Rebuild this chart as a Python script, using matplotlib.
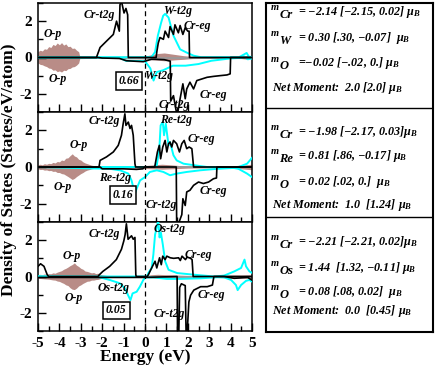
import numpy as np
import matplotlib
matplotlib.use('Agg')
from matplotlib import pyplot as plt
from matplotlib.ticker import MultipleLocator

plt.rcParams['font.family'] = 'Liberation Serif'
plt.rcParams['font.weight'] = 'bold'
plt.rcParams['axes.unicode_minus'] = False
plt.rcParams['mathtext.fontset'] = 'custom'
plt.rcParams['mathtext.it'] = 'Liberation Serif:italic:bold'
plt.rcParams['mathtext.rm'] = 'Liberation Serif:bold'
plt.rcParams['mathtext.bf'] = 'Liberation Serif:italic:bold'

# ---------------- panel 1 : Cr / W ----------------
cr1_up_e = [-5.0, -2.27, -2.1, -1.8, -1.48, -1.33, -1.2, -1.17, -1.1, -0.98, -0.89, -0.81, -0.78,
            0.52, 0.55, 0.62, 0.7, 0.86, 0.94, 1.1, 1.17, 1.33, 1.4, 1.56, 1.64, 1.77, 1.88, 2.0, 2.06, 2.08, 5.0]
cr1_up = [0.0, 0.0, 0.55, 0.9, 1.27, 2.0, 1.45, 2.9, 3.1, 2.45, 2.7, 2.35, 0.0,
          0.0, 0.3, 0.8, 1.1, 1.0, 1.45, 1.1, 1.7, 1.27, 1.8, 1.36, 1.76, 1.27, 1.64, 1.45, 1.45, 0.0, 0.0]
cr1_dn_e = [-5.0, -2.2, -2.0, -1.2, -0.86, -0.08, 0.3, 0.5, 0.9, 1.1, 1.18, 1.2, 1.33, 1.45, 1.52, 1.64,
            1.77, 1.88, 1.95, 2.1, 2.27, 2.42, 2.66, 2.9, 3.2, 3.5, 3.83, 3.98, 4.0, 5.0]
cr1_dn = [0.0, 0.0, -0.03, -0.05, -0.18, -0.23, -0.1, -0.1, -0.12, -0.18, -0.2, -2.4, -2.1, -2.9, -3.1, -2.27,
          -1.45, -2.27, -1.73, -1.36, -1.73, -1.27, -1.18, -1.09, -1.04, -1.0, -0.96, -0.9, 0.0, 0.0]
w_up_e = [-5.0, 0.3, 0.47, 0.6, 0.75, 0.85, 0.94, 1.1, 1.33, 1.64, 1.95, 2.27, 2.6, 4.4, 4.6, 4.75, 4.85, 5.0]
w_up = [0.0, 0.02, 0.3, 1.2, 1.9, 2.3, 2.4, 2.2, 1.2, 0.45, 0.27, 0.1, 0.02, 0.02, 0.15, 0.25, 0.05, 0.02]
w_dn_e = [-5.0, -1.2, -0.9, 0.0, 0.25, 0.4, 0.55, 0.85, 1.3, 1.9, 2.5, 3.1, 4.0, 4.5, 4.65, 4.8, 5.0]
w_dn = [0.0, 0.0, -0.18, -0.2, -0.6, -1.27, -0.8, -0.7, -0.45, -0.45, -0.36, -0.18, -0.05, -0.02, 0.05, -0.1, -0.05]
op1_e = [-5.0, -4.9, -4.8, -4.7, -4.6, -4.5, -4.4, -4.3, -4.2, -4.1, -4.0, -3.9, -3.8, -3.7, -3.6, -3.5,
         -3.4, -3.3, -3.2, -3.1, -3.05, -2.5, -2.0, -1.5, -1.0, -0.5, 0.0, 0.3, 0.6, 0.9, 1.2, 1.5, 1.8,
         2.2, 3.0, 4.0, 4.5, 4.8, 5.0]
op1_up = [0.32, 0.40, 0.36, 0.48, 0.45, 0.60, 0.55, 0.72, 0.66, 0.80, 0.70, 0.82, 0.68, 0.75, 0.60, 0.62,
          0.50, 0.52, 0.40, 0.32, 0.06, 0.05, 0.05, 0.06, 0.08, 0.07, 0.08, 0.15, 0.22, 0.25, 0.2, 0.15, 0.1,
          0.06, 0.05, 0.05, 0.06, 0.12, 0.05]
op1_dn = [-0.30, -0.38, -0.40, -0.46, -0.50, -0.58, -0.60, -0.70, -0.68, -0.78, -0.74, -0.8, -0.7, -0.72, -0.62, -0.6,
          -0.52, -0.5, -0.42, -0.3, -0.06, -0.05, -0.05, -0.06, -0.07, -0.07, -0.08, -0.12, -0.15, -0.18, -0.15, -0.12, -0.1,
          -0.06, -0.05, -0.05, -0.06, -0.1, -0.05]

# ---------------- panel 2 : Cr / Re ----------------
cr2_up_e = [-5.0, -2.15, -2.1, -1.8, -1.48, -1.25, -1.1, -1.02, -0.94, -0.89, -0.78, -0.7, -0.63, -0.55, -0.47, -0.44,
            0.45, 0.47, 0.58, 0.67, 0.73, 0.83, 0.94, 1.02, 1.1, 1.17, 1.25, 1.33, 1.48, 1.61, 1.72, 1.83, 1.95,
            2.06, 2.19, 2.27, 5.0]
cr2_up = [0.0, 0.0, 0.36, 0.55, 0.82, 1.18, 1.73, 2.36, 2.9, 2.27, 2.45, 2.1, 2.27, 1.73, 0.18, 0.0,
          0.0, 0.1, 0.82, 1.18, 0.45, 1.09, 1.45, 0.82, 1.27, 1.36, 1.09, 1.45, 1.27, 0.82, 1.27, 1.45, 1.0,
          1.09, 1.0, 0.0, 0.0]
cr2_dn_e = [-5.0, -2.1, -2.0, -1.0, -0.4, -0.1, 0.0, 1.46, 1.48, 1.56, 1.72, 1.77, 1.88, 1.95, 2.1, 2.27, 2.5,
            2.73, 2.97, 3.2, 3.34, 3.36, 5.0]
cr2_dn = [0.0, 0.0, -0.1, -0.1, -0.13, -0.1, 0.0, 0.0, -3.1, -3.1, -2.6, -1.73, -2.1, -1.36, -1.27, -1.0, -0.82,
          -0.9, -0.82, -0.64, -0.6, 0.0, 0.0]
re_up_e = [-5.0, 0.4, 0.55, 0.67, 0.73, 0.83, 0.89, 0.97, 1.02, 1.1, 1.17, 1.33, 1.48, 1.8, 2.27, 2.9, 4.37, 4.77, 5.0]
re_up = [0.0, 0.0, 0.1, 1.0, 2.27, 2.45, 1.73, 2.36, 1.9, 1.18, 1.36, 0.64, 0.36, 0.18, 0.1, 0.0, 0.0, 0.18, 0.5]
re_dn_e = [-5.0, -1.64, -1.17, -0.78, -0.63, -0.55, -0.47, -0.39, -0.23, 0.0, 0.23, 0.55, 0.86, 1.17, 1.48,
           1.95, 2.58, 3.36, 4.14, 4.37, 4.77, 5.0]
re_dn = [0.0, -0.1, -0.18, -0.36, -0.73, -1.1, -1.45, -1.18, -0.73, -0.55, -0.27, -0.18, -0.27, -0.45, -0.36,
         -0.27, -0.18, -0.1, -0.05, -0.1, -0.36, -0.55]
op2_e = [-5.0, -4.9, -4.8, -4.7, -4.6, -4.5, -4.4, -4.3, -4.2, -4.1, -4.0, -3.9, -3.8, -3.7, -3.6, -3.5, -3.4,
         -3.3, -3.2, -3.1, -3.0, -2.9, -2.8, -2.7, -2.6, -2.5, -2.3, -2.0, -1.5, -1.0, -0.5, 0.0, 0.4, 0.8,
         1.2, 1.6, 2.0, 3.0, 4.0, 4.5, 5.0]
op2_up = [0.12, 0.15, 0.12, 0.18, 0.15, 0.2, 0.18, 0.25, 0.22, 0.3, 0.28, 0.38, 0.35, 0.48, 0.5, 0.62, 0.72,
          0.6, 0.55, 0.42, 0.38, 0.28, 0.22, 0.18, 0.14, 0.1, 0.06, 0.05, 0.04, 0.05, 0.06, 0.08, 0.12, 0.15,
          0.12, 0.08, 0.06, 0.05, 0.06, 0.1, 0.15]
op2_dn = [-0.1, -0.14, -0.13, -0.17, -0.16, -0.2, -0.19, -0.24, -0.23, -0.3, -0.3, -0.36, -0.38, -0.45, -0.52, -0.6, -0.68,
          -0.62, -0.52, -0.44, -0.36, -0.3, -0.22, -0.17, -0.14, -0.1, -0.06, -0.05, -0.04, -0.05, -0.06, -0.08, -0.1, -0.12,
          -0.1, -0.08, -0.06, -0.05, -0.06, -0.1, -0.15]

# ---------------- panel 3 : Cr / Os ----------------
cr3_up_e = [-5.0, -4.88, -4.72, -4.57, -4.5, -2.2, -2.13, -1.97, -1.65, -1.34, -1.1, -0.99, -0.93, -0.87, -0.79,
            -0.63, -0.55, -0.47, -0.43, -0.41, 0.1, 0.16, 0.31, 0.47, 0.55, 0.68, 0.76, 0.83, 0.94, 1.02, 1.18,
            1.34, 1.57, 1.65, 1.73, 1.89, 1.97, 2.13, 2.2, 2.25, 5.0]
cr3_up = [0.56, 0.7, 0.56, 0.1, 0.0, 0.0, 0.1, 0.28, 0.56, 0.93, 1.5, 1.96, 2.3, 2.9, 2.05,
          2.24, 2.05, 2.15, 0.1, 0.0, 0.0, 0.1, 0.47, 0.84, 0.47, 1.03, 0.65, 1.12, 0.93, 1.12, 1.03,
          1.0, 1.03, 0.88, 1.12, 0.93, 1.07, 1.0, 0.93, 0.0, 0.0]
cr3_dn_e = [-5.0, -4.5, -2.0, 0.0, 1.5, 1.52, 1.58, 1.62, 1.7, 1.88, 1.92, 1.97, 2.05, 2.13, 2.28, 2.6, 2.91,
            3.15, 3.22, 3.7, 4.17, 4.8, 5.0]
cr3_dn = [-0.05, -0.05, -0.05, -0.05, 0.0, -3.1, -3.1, -0.6, -0.4, -0.5, -3.1, -3.1, -1.4, -1.03, -0.75, -0.56, -0.56,
          -0.47, 0.0, 0.0, -0.1, -0.05, -0.2]
os_up_e = [-5.0, 0.1, 0.16, 0.31, 0.39, 0.47, 0.55, 0.62, 0.68, 0.74, 0.83, 0.94, 1.1, 1.5, 2.28, 3.23, 3.7,
           4.17, 4.49, 4.65, 4.72, 4.88, 5.0]
os_up = [0.0, 0.0, 0.2, 0.47, 1.2, 2.3, 2.7, 3.1, 2.15, 2.43, 1.78, 0.84, 0.37, 0.19, 0.1, 0.0, 0.05,
         0.28, 0.47, 0.93, 0.56, 0.28, 0.2]
os_dn_e = [-5.0, -2.13, -1.65, -1.18, -0.94, -0.79, -0.68, -0.58, -0.39, -0.24, -0.08, 0.03, 0.39, 1.02, 1.65,
           2.6, 3.39, 3.7, 4.02, 4.25, 4.33, 4.49, 4.72, 4.88, 5.0]
os_dn = [0.0, -0.04, -0.19, -0.37, -0.65, -1.03, -1.3, -0.93, -0.84, -0.56, -0.19, -0.05, -0.05, -0.13, -0.13,
         -0.1, -0.04, -0.05, -0.19, -0.47, -0.75, -0.47, -0.24, -0.19, -0.28]
op3_e = [-5.0, -4.9, -4.8, -4.7, -4.6, -4.5, -4.4, -4.3, -4.2, -4.1, -4.0, -3.9, -3.8, -3.7, -3.6, -3.5, -3.4,
         -3.3, -3.2, -3.1, -3.0, -2.9, -2.8, -2.7, -2.6, -2.5, -2.4, -2.3, -2.2, -2.1, -2.0, -1.8, -1.5, -1.0,
         -0.5, 0.0, 0.3, 0.6, 1.0, 1.5, 2.0, 2.5, 3.0, 3.5, 4.0, 4.5, 5.0]
op3_up = [0.1, 0.12, 0.1, 0.14, 0.12, 0.16, 0.15, 0.2, 0.18, 0.24, 0.28, 0.32, 0.4, 0.45, 0.52, 0.6, 0.66,
          0.75, 0.62, 0.55, 0.45, 0.4, 0.3, 0.28, 0.24, 0.2, 0.22, 0.16, 0.18, 0.12, 0.1, 0.06, 0.05, 0.04,
          0.04, 0.05, 0.1, 0.12, 0.1, 0.08, 0.06, 0.05, 0.05, 0.06, 0.08, 0.08, 0.1]
op3_dn = [-0.1, -0.11, -0.12, -0.13, -0.14, -0.15, -0.17, -0.19, -0.2, -0.25, -0.27, -0.33, -0.38, -0.46, -0.5, -0.62, -0.7,
          -0.72, -0.64, -0.52, -0.46, -0.38, -0.32, -0.26, -0.25, -0.2, -0.2, -0.17, -0.16, -0.12, -0.1, -0.06, -0.05, -0.04,
          -0.04, -0.05, -0.08, -0.1, -0.1, -0.08, -0.06, -0.05, -0.05, -0.06, -0.08, -0.08, -0.1]

# labels inside each panel: (text, E, DOS)
labels1 = [('Cr-t2g', -2.15, 2.36), ('W-t2g', 1.55, 2.55), ('Cr-eg', 2.45, 1.73), ('O-p', -4.3, 1.27),
           ('O-p', -4.1, -1.18), ('W-t2g', 0.66, -1.0), ('Cr-t2g', 1.36, -2.64), ('Cr-eg', 3.2, -2.09)]
labels2 = [('Cr-t2g', -1.92, 2.49), ('Re-t2g', 1.44, 2.55), ('Cr-eg', 2.61, 1.51), ('O-p', -3.09, 1.18),
           ('O-p', -3.83, -1.09), ('Re-t2g', -1.38, -0.58), ('Cr-t2g', 0.78, -2.05), ('Cr-eg', 3.2, -1.33)]
labels3 = [('Cr-t2g', -1.88, 2.36), ('Os-t2g', 1.13, 2.64), ('Cr-eg', 2.47, 1.21), ('O-p', -3.43, 1.12),
           ('O-p', -3.35, -1.18), ('Os-t2g', -1.46, -0.65), ('Cr-t2g', 1.15, -2.09), ('Cr-eg', 3.1, -1.03)]
boxed = [('0.66', -0.75, -1.27), ('0.16', -1.02, -1.55), ('0.05', -1.34, -1.87)]

# moments box text
moment_names = [['Cr', 'W', 'O'], ['Cr', 'Re', 'O'], ['Cr', 'Os', 'O']]
moment_vals = [['= \u22122.14 [\u22122.15, 0.02] $\\mu_B$', '= 0.30 [.30, \u22120.07]  $\\mu_B$',
                '=\u22120.02 [\u2212.02, 0.] $\\mu_B$'],
               ['= \u22121.98 [\u22122.17, 0.03]$\\mu_B$', '= 0.81 [.86, \u22120.17] $\\mu_B$',
                '= 0.02 [.02, 0.]  $\\mu_B$'],
               ['= \u22122.21 [\u22122.21, 0.02]$\\mu_B$', '= 1.44  [1.32, \u22120.11] $\\mu_B$',
                '= 0.08 [.08, 0.02]  $\\mu_B$']]
net_moment = ['Net Moment:  2.0 [2.0] $\\mu_B$', 'Net Moment:  1.0  [1.24] $\\mu_B$',
              'Net Moment:  0.0  [0.45] $\\mu_B$']

panels = [
    dict(cu=(cr1_up_e, cr1_up), cd=(cr1_dn_e, cr1_dn), mu=(w_up_e, w_up), md=(w_dn_e, w_dn),
         op=(op1_e, op1_up, op1_dn), labels=labels1, box=boxed[0]),
    dict(cu=(cr2_up_e, cr2_up), cd=(cr2_dn_e, cr2_dn), mu=(re_up_e, re_up), md=(re_dn_e, re_dn),
         op=(op2_e, op2_up, op2_dn), labels=labels2, box=boxed[1]),
    dict(cu=(cr3_up_e, cr3_up), cd=(cr3_dn_e, cr3_dn), mu=(os_up_e, os_up), md=(os_dn_e, os_dn),
         op=(op3_e, op3_up, op3_dn), labels=labels3, box=boxed[2]),
]

W, H = 436, 368
fig = plt.figure(figsize=(W / 100, H / 100), dpi=100)

tops = [3, 112, 222]
bots = [112, 222, 331]
for i, p in enumerate(panels):
    ax = fig.add_axes([38 / W, 1 - bots[i] / H, 214 / W, (bots[i] - tops[i]) / H])
    e, u, d = p['op']
    ax.fill_between(e, d, u, color='#b98c87', lw=0, zorder=1)
    ax.axhline(0, color='#9a9a9a', lw=1.3, zorder=2)
    ax.plot(*p['md'], color='#00ffff', lw=1.4, zorder=3)
    ax.plot(*p['mu'], color='#00ffff', lw=1.4, zorder=3)
    ax.plot(*p['cd'], color='black', lw=1.2, zorder=4)
    ax.plot(*p['cu'], color='black', lw=1.2, zorder=4)
    ax.axvline(0, color='black', ls='--', lw=0.9, dashes=(4, 3), zorder=5)
    for s, x, y in p['labels']:
        ax.text(x, y, s, ha='center', va='center', fontsize=8.5, style='italic', weight='bold', zorder=6)
    s, x, y = p['box']
    ax.text(x, y, s, ha='center', va='center', fontsize=8.5, style='italic', weight='bold', zorder=6,
            bbox=dict(boxstyle='square,pad=0.25', fc='white', ec='black', lw=1.1))
    ax.set_xlim(-5, 5)
    ax.set_ylim(-3, 3)
    ax.xaxis.set_major_locator(MultipleLocator(1))
    ax.xaxis.set_minor_locator(MultipleLocator(0.5))
    ax.set_yticks([-2, 0, 2])
    ax.yaxis.set_minor_locator(MultipleLocator(1))
    ax.tick_params(which='both', direction='in', top=False, right=False, labelsize=11)
    ax.tick_params(which='major', length=6, width=1)
    ax.tick_params(which='minor', length=3.5, width=1)
    ax.tick_params(axis='y', pad=4)
    ax.tick_params(axis='x', pad=4)
    for sp in ax.spines.values():
        sp.set_linewidth(1.1)
    if i < 2:
        ax.tick_params(labelbottom=False)

fig.text(9 / W, 1 - 170 / H, 'Density of States (States/eV/atom)', rotation=90,
         ha='center', va='center', fontsize=12.5, weight='bold')
fig.text(145 / W, 1 - 357 / H, 'Energy (eV)', ha='center', va='center', fontsize=12.5, weight='bold')

# moments panel
rb = fig.add_axes([266 / W, 1 - 332 / H, 167 / W, 329 / H])
rb.set_xlim(266, 433)
rb.set_ylim(332, 3)
rb.set_xticks([])
rb.set_yticks([])
for sp in rb.spines.values():
    sp.set_linewidth(1.5)
rb.axhline(108, color='black', lw=1)
rb.axhline(217, color='black', lw=1)

row_y = [[12, 38, 63, 88], [132, 156, 182, 205], [242, 268, 292, 311]]
for k in range(3):
    for j in range(3):
        rb.text(271, row_y[k][j] - 4, 'm', ha='left', va='center', fontsize=7.5,
                style='italic', weight='bold')
        rb.text(279.5, row_y[k][j] + 3, moment_names[k][j], ha='left', va='center', fontsize=9,
                style='italic', weight='bold')
        rb.text(298, row_y[k][j], moment_vals[k][j], ha='left', va='center', fontsize=8.7,
                style='italic', weight='bold')
    rb.text(272, row_y[k][3], net_moment[k], ha='left', va='center', fontsize=8.7,
            style='italic', weight='bold')

fig.savefig('out.png', dpi=100)
